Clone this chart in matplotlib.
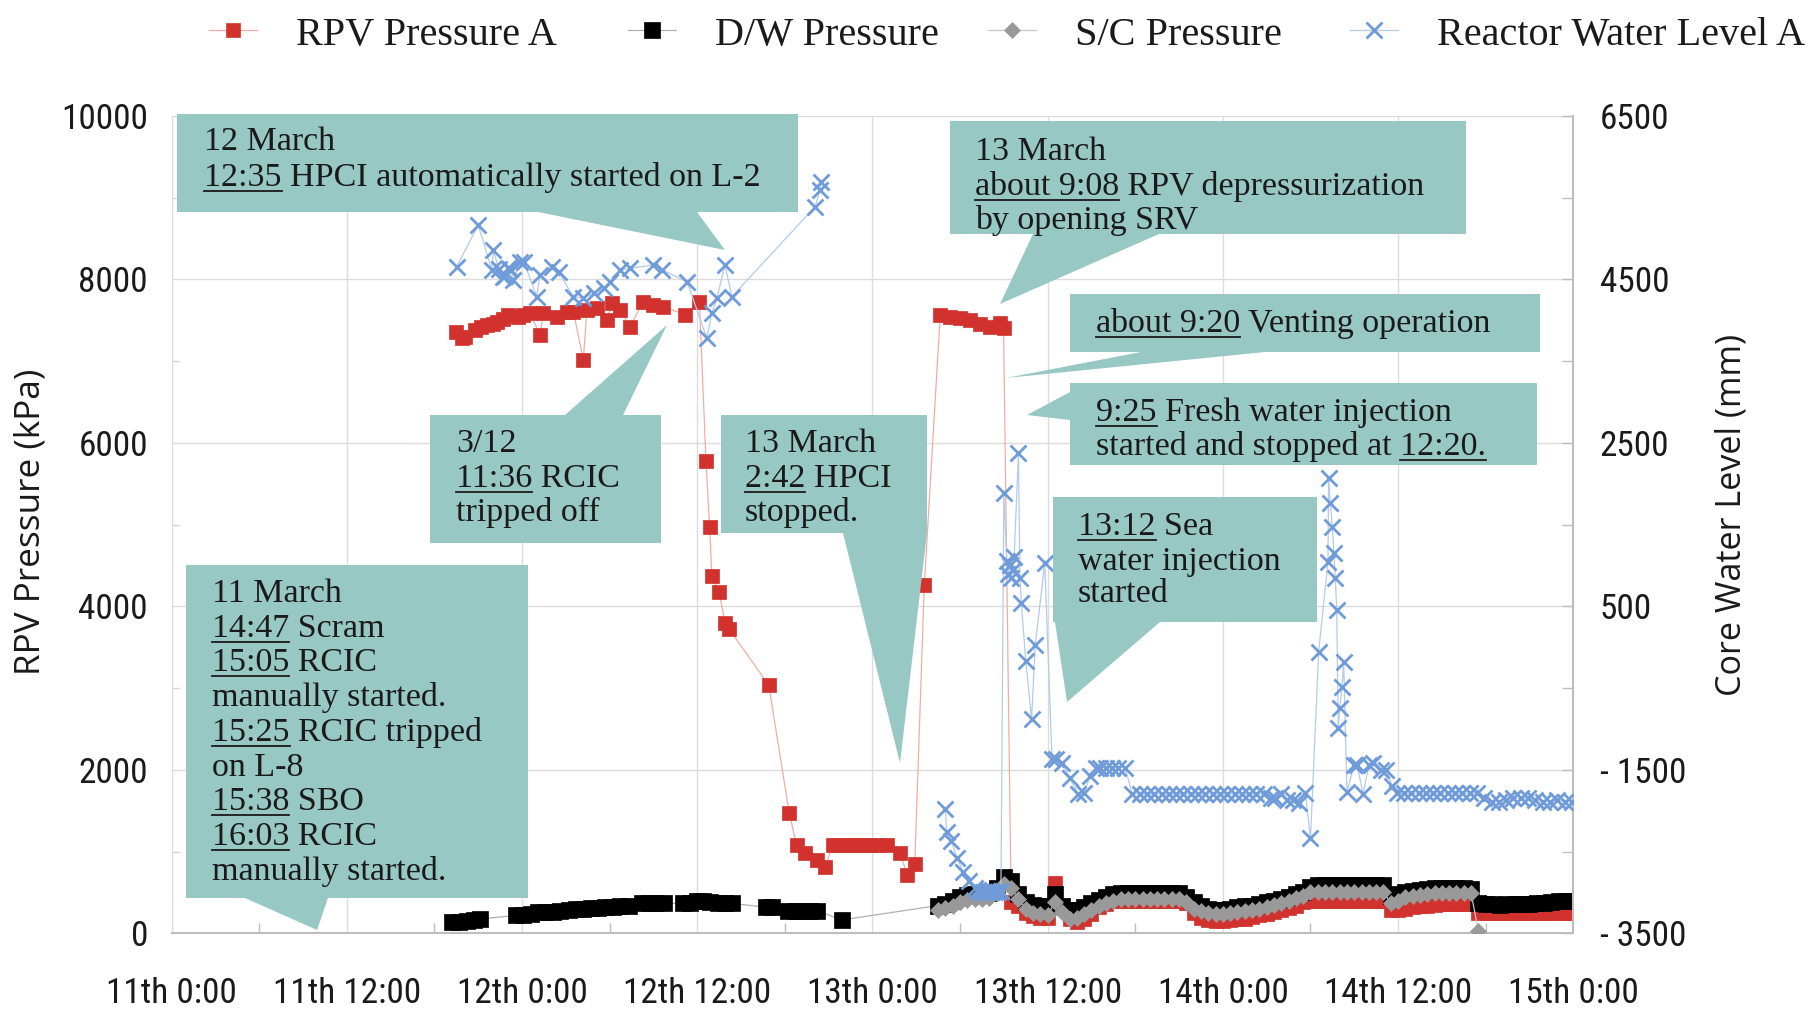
import matplotlib
matplotlib.use('Agg')
import matplotlib.pyplot as plt
from matplotlib import font_manager as fm
from matplotlib.font_manager import FontProperties
from matplotlib.patches import Polygon
from matplotlib.lines import Line2D

W, H = 1818, 1009

# ------------------------------------------------------------------ data
x_ticks = [0, 12, 24, 36, 48, 60, 72, 84, 96]
x_minor = [6, 18, 30, 42, 54, 66, 78, 90]
x_tick_labels = ['11th 0:00', '11th 12:00', '12th 0:00', '12th 12:00', '13th 0:00',
                 '13th 12:00', '14th 0:00', '14th 12:00', '15th 0:00']
p_ticks = [0, 2000, 4000, 6000, 8000, 10000]
p_tick_labels = ['0', '2000', '4000', '6000', '8000', '10000']
p_minor = [1000, 3000, 5000, 7000, 9000]
lvl_ticks = [-3500, -1500, 500, 2500, 4500, 6500]
lvl_tick_labels = ['- 3500', '- 1500', '500', '2500', '4500', '6500']
lvl_minor = [-2500, -500, 1500, 3500, 5500]

# hours after 11 March 0:00
dense_t = [52.5, 53, 53.5, 54, 54.5, 55, 55.5, 56, 56.5, 57,
           57.5, 58, 58.5, 59, 59.5, 60, 60.5, 61, 61.5, 62,
           62.5, 63, 63.5, 64, 64.5, 65, 65.5, 66, 66.5, 67,
           67.5, 68, 68.5, 69, 69.5, 70, 70.5, 71, 71.5, 72,
           72.5, 73, 73.5, 74, 74.5, 75, 75.5, 76, 76.5, 77,
           77.5, 78, 78.5, 79, 79.5, 80, 80.5, 81, 81.5, 82,
           82.5, 83, 83.5, 84, 84.5, 85, 85.5, 86, 86.5, 87,
           87.5, 88, 88.5, 89, 89.5, 90, 90.5, 91, 91.5, 92,
           92.5, 93, 93.5, 94, 94.5, 95, 95.5, 96]

# RPV Pressure A (kPa)
rpv_t_a = [19.46, 19.9, 20.1, 20.8, 21.2, 21.6, 22.0, 22.3, 22.7, 23.07,
           23.75, 24.1, 24.55, 25.24, 25.46, 26.38, 27.1, 27.52, 28.2, 28.44,
           29.12, 29.81, 30.15, 30.72, 31.4, 32.3, 33.0, 33.68, 35.17, 36.15,
           36.6, 36.85, 37.0, 37.5, 37.9, 38.2, 40.9, 42.3, 42.8, 43.4,
           44.2, 44.76, 45.3, 45.8, 46.3, 46.8, 47.3, 47.8, 48.3, 49.0,
           49.9, 50.4, 50.9, 51.55, 52.64, 53.3, 54.0, 54.7, 55.4, 56.06,
           56.75, 56.98]
rpv_p_a = [7361, 7280, 7300, 7381, 7420, 7443, 7460, 7483, 7520, 7565,
           7544, 7560, 7585, 7320, 7585, 7544, 7600, 7605, 7014, 7626,
           7647, 7504, 7708, 7626, 7422, 7728, 7687, 7667, 7565, 7728,
           5773, 4965, 4369, 4170, 3801, 3717, 3036, 1475, 1080, 979,
           897, 815, 1080, 1080, 1080, 1080, 1080, 1080, 1080, 1080,
           979, 709, 851, 4255, 7560, 7545, 7530, 7500, 7460, 7420,
           7470, 7400]
rpv_t_b = dense_t[10:]
rpv_p_b = [380, 330, 250, 210, 190, 190, 620, 320, 170, 140,
           170, 240, 320, 360, 390, 400, 400, 400, 400, 400,
           400, 400, 400, 400, 370, 250, 190, 160, 150, 150,
           160, 170, 180, 200, 220, 240, 260, 280, 310, 340,
           380, 400, 400, 400, 400, 400, 400, 400, 400, 400,
           400, 400, 280, 280, 300, 320, 330, 340, 350, 360,
           360, 360, 360, 360, 250, 250, 250, 250, 250, 250,
           250, 250, 250, 250, 250, 250, 250, 250]

# D/W Pressure (kPa)
dw_t_a = [19.2, 19.7, 20.2, 20.7, 21.1, 23.6, 24.1, 24.6, 25.1, 25.6,
          26.1, 26.6, 27.2, 27.7, 28.2, 28.7, 29.2, 29.7, 30.2, 30.7,
          31.3, 32.2, 32.7, 33.2, 33.7, 35.0, 35.5, 36.0, 36.4, 36.9,
          37.4, 37.9, 38.4, 40.7, 41.1, 42.2, 42.7, 43.2, 43.7, 44.2,
          45.9]
dw_p_a = [135, 140, 145, 165, 175, 220, 228, 240, 255, 262,
          264, 268, 285, 295, 300, 306, 315, 322, 326, 330,
          336, 367, 367, 367, 367, 367, 370, 395, 399, 380,
          370, 367, 367, 318, 318, 277, 277, 277, 277, 277,
          163]
dw_t_b = dense_t
dw_p_b = [340, 360, 400, 440, 470, 480, 480, 490, 560, 690,
          640, 480, 380, 350, 330, 330, 480, 340, 280, 290,
          320, 370, 410, 450, 480, 490, 490, 490, 490, 490,
          490, 490, 490, 490, 450, 380, 330, 300, 290, 290,
          300, 320, 330, 340, 360, 380, 400, 420, 450, 480,
          510, 570, 590, 590, 590, 590, 590, 590, 590, 590,
          590, 590, 460, 480, 510, 520, 530, 540, 550, 550,
          550, 550, 550, 540, 370, 360, 360, 350, 360, 360,
          360, 360, 370, 370, 380, 390, 390, 400]

# S/C Pressure (kPa)
sc_t = dense_t[:74] + [89.5]
sc_p = [290, 310, 340, 380, 410, 420, 420, 430, 490, 600,
        560, 420, 300, 250, 230, 220, 380, 260, 180, 190,
        230, 290, 330, 370, 400, 420, 420, 420, 420, 420,
        420, 420, 420, 420, 380, 300, 270, 250, 240, 240,
        250, 260, 270, 280, 300, 320, 350, 370, 400, 430,
        460, 500, 510, 510, 510, 510, 510, 510, 510, 510,
        510, 510, 370, 400, 440, 460, 470, 480, 490, 490,
        490, 490, 490, 490, 30]

# Reactor Water Level A (mm)
lvl_t_a = [19.53, 21.0, 21.93, 22.04, 22.4, 22.7, 22.8, 23.07, 23.2, 23.4,
           23.87, 24.15, 25.0, 25.24, 26.04, 26.5, 27.5, 28.2, 28.9, 29.6,
           30.0, 30.7, 31.4, 33.0, 33.6, 35.3, 36.66, 37.0, 37.34, 37.9,
           38.37, 44.08, 44.4, 44.5]
lvl_a = [4656, 5166, 4616, 4860, 4625, 4534, 4540, 4636, 4625, 4493,
         4717, 4710, 4289, 4554, 4656, 4595, 4289, 4269, 4330, 4391,
         4473, 4616, 4636, 4677, 4616, 4473, 3780, 4086, 4269, 4677,
         4289, 5390, 5594, 5696]
lvl_t_b = [52.98, 53.1, 53.4, 53.8, 54.2, 54.6, 55.0, 55.2, 55.4, 55.6,
           55.8, 56.0, 56.2, 56.4, 56.6, 56.8, 57.0, 57.2, 57.3, 57.4,
           57.5, 57.6, 57.7, 58.0, 58.1,
           58.2, 58.5, 58.9, 59.15, 59.8, 60.3, 60.6, 61.0, 61.5, 62.1,
           62.5, 62.9, 63.3, 63.6, 64.0, 64.4, 64.8, 65.3, 65.8, 66.3,
           66.8, 67.3, 67.8, 68.3, 68.8, 69.3, 69.8, 70.3, 70.8, 71.3,
           71.8, 72.3, 72.8, 73.3, 73.8, 74.3, 74.8, 75.3, 75.6, 76.0,
           76.4, 76.8, 77.2, 77.65, 78.0, 78.56, 79.2, 79.24, 79.36, 79.5,
           79.6, 79.7, 79.8, 79.9, 80.0, 80.16, 80.27, 80.5, 81.0, 81.2,
           81.6, 82.0, 82.3, 82.8, 83.2, 83.6, 83.9, 84.4, 84.9, 85.4,
           85.9, 86.4, 86.9, 87.4, 87.9, 88.4, 88.9, 89.4, 89.9, 90.4,
           90.9, 91.4, 91.9, 92.4, 92.9, 93.4, 93.9, 94.4, 94.9, 95.4,
           95.9]
lvl_b = [-1983, -2266, -2366, -2578, -2748, -2862, -2950, -2970, -2990, -2990,
         -3000, -2985, -3000, -2995, -2990, -2980, 1883, 1050, 900, 1000,
         850, 950, 1100, 2373, 850,
         538, -168, -877, 27, 1027, -1373, -1373, -1416, -1600, -1798,
         -1783, -1580, -1472, -1472, -1472, -1472, -1472, -1472, -1798, -1798,
         -1798, -1798, -1798, -1798, -1798, -1798, -1798, -1798, -1798, -1798,
         -1798, -1798, -1798, -1798, -1798, -1798, -1798, -1845, -1841, -1798,
         -1870, -1869, -1912, -1787, -2338, -55, 1047, 2067, 1761, 1475,
         1149, 843, 456, -992, -747, -483, -177, -1767, -1441, -1441,
         -1798, -1441, -1416, -1500, -1502, -1700, -1787, -1787, -1787, -1787,
         -1787, -1787, -1787, -1787, -1787, -1787, -1787, -1787, -1850, -1890,
         -1890, -1870, -1848, -1848, -1848, -1870, -1890, -1890, -1870, -1890,
         -1890]

series_names = ['RPV Pressure A', 'D/W Pressure', 'S/C Pressure', 'Reactor Water Level A']

# ------------------------------------------------------------------ fonts
ttf = fm.fontManager.ttflist
names = {f.name for f in ttf}


def _regular(f):
    w = f.weight
    if isinstance(w, str):
        return w.lower() in ('normal', 'regular', 'book', 'roman', 'medium')
    return 350 <= w <= 500


def pick_condensed():
    prefs = ['Liberation Sans Narrow', 'Roboto Condensed', 'Noto Sans', 'Open Sans',
             'DejaVu Sans', 'Roboto', 'Lato', 'Inter', 'Liberation Sans']
    cands = []
    for f in ttf:
        st = str(f.stretch).lower()
        nm = f.name
        if f.style != 'normal' or not _regular(f):
            continue
        if any(k in nm for k in ('Extra', 'Ultra', 'Semi', 'Mono', 'CJK', 'Serif')):
            continue
        if 'Narrow' in nm or 'Condensed' in nm or st == 'condensed':
            fl = f.fname.lower()
            if 'extra' in fl or 'semi' in fl or 'ultra' in fl:
                continue
            cands.append(f)
    for p in prefs:
        for f in cands:
            if f.name.startswith(p):
                return f.fname
    return cands[0].fname if cands else None


_cf = pick_condensed()
FP_TICK = FontProperties(fname=_cf) if _cf else FontProperties(family='Liberation Sans')
SERIF = 'Liberation Serif' if 'Liberation Serif' in names else 'DejaVu Serif'
FP_NOTE = FontProperties(family=SERIF, size=24.5)
FP_LEG = FontProperties(family=SERIF, size=29)
SANS_LAB = 'Open Sans' if 'Open Sans' in names else 'DejaVu Sans'
FP_AXLAB_L = FontProperties(family=SANS_LAB, size=25.3)
FP_AXLAB_R = FontProperties(family=SANS_LAB, size=24.6)

TXT = '#1a1a1a'
BOX = '#98c8c4'
C_RED = '#d2322d'
C_BLUE = '#6f9bd8'

# ------------------------------------------------------------------ figure
fig = plt.figure(figsize=(W / 100, H / 100), dpi=100)
fig.patch.set_facecolor('white')
renderer = fig.canvas.get_renderer()

# size the condensed tick font so that "10000" is ~87 px wide
_probe = fig.text(0, 0, '10000', fontproperties=FP_TICK, size=20)
_w = _probe.get_window_extent(renderer).width
_probe.remove()
FP_TICK.set_size(min(30, 20 * 87.0 / _w))

ax = fig.add_axes([171.6 / W, 1 - 933.3 / H, (1573.3 - 171.6) / W, (933.3 - 115.9) / H])
ax2 = ax.twinx()

l_rpv, = ax.plot(rpv_t_a + rpv_t_b, rpv_p_a + rpv_p_b, color='#f2ada2', lw=0.9,
                 marker='s', ms=9.5, mfc=C_RED, mec=C_RED, mew=0.5, zorder=2)
l_dw, = ax.plot(dw_t_a + dw_t_b, dw_p_a + dw_p_b, color='#b0b0b0', lw=0.9,
                marker='s', ms=11, mfc='black', mec='black', mew=0.5, zorder=3)
l_sc, = ax.plot(sc_t, sc_p, color='#c8c8c8', lw=0.9,
                marker='D', ms=8.5, mfc='#999999', mec='#999999', mew=0.5, zorder=4)
l_lv, = ax2.plot(lvl_t_a, lvl_a, color='#b3cbeb', lw=0.9,
                 marker='x', ms=11.5, mew=2.0, mec=C_BLUE, zorder=5)
ax2.plot(lvl_t_b, lvl_b, color='#b3cbeb', lw=0.9,
         marker='x', ms=11.5, mew=2.0, mec=C_BLUE, zorder=5)

ax.set_xlim(x_ticks[0], x_ticks[-1])
ax.set_ylim(p_ticks[0], p_ticks[-1])
ax2.set_ylim(lvl_ticks[0], lvl_ticks[-1])

ax.set_xticks(x_ticks)
ax.set_xticklabels(x_tick_labels, fontproperties=FP_TICK, color=TXT)
ax.set_xticks(x_minor, minor=True)
ax.set_yticks(p_ticks)
ax.set_yticklabels(p_tick_labels, fontproperties=FP_TICK, color=TXT)
ax.set_yticks(p_minor, minor=True)
ax2.set_yticks(lvl_ticks)
ax2.set_yticklabels(lvl_tick_labels, fontproperties=FP_TICK, color=TXT)
ax2.set_yticks(lvl_minor, minor=True)

ax.grid(True, which='major', color='#dcdcdc', lw=1.0)
ax.set_axisbelow(True)
ax.tick_params(axis='x', which='major', length=0, pad=31.5)
ax.tick_params(axis='x', which='minor', direction='in', length=7, color='#bdbdbd', width=1)
ax.tick_params(axis='y', which='major', length=0, pad=17)
ax.tick_params(axis='y', which='minor', direction='in', length=6, color='#d6d6d6', width=1)
ax2.tick_params(axis='y', which='both', direction='in', length=8, color='#bdbdbd', width=1, pad=19)

for a in (ax, ax2):
    a.spines['top'].set_visible(False)
ax2.spines['left'].set_visible(False)
ax2.spines['bottom'].set_visible(False)
ax.spines['right'].set_visible(False)
ax.spines['left'].set_color('#dcdcdc')
ax.spines['bottom'].set_color('#bdbdbd')
ax.spines['bottom'].set_linewidth(1.5)
ax2.spines['right'].set_color('#bdbdbd')
ax2.spines['right'].set_linewidth(1.5)

# axis titles
fig.text(31 / W, 1 - 522 / H, 'RPV Pressure (kPa)', rotation=90, ha='center', va='center',
         fontproperties=FP_AXLAB_L, color=TXT)
fig.text(1732 / W, 1 - 515 / H, 'Core Water Level (mm)', rotation=90, ha='center', va='center',
         fontproperties=FP_AXLAB_R, color=TXT)

# legend (one entry each, placed along the top)
leg_x = [209, 628, 988, 1350]
for h, name, x0 in zip([l_rpv, l_dw, l_sc, l_lv], series_names, leg_x):
    fig.legend([h], [name], loc='center left', bbox_to_anchor=(x0 / W, 1 - 35 / H),
               frameon=False, borderpad=0, borderaxespad=0, handlelength=1.2,
               handletextpad=0.95, prop=FP_LEG, labelcolor=TXT)

# ------------------------------------------------------------------ callouts


def fpt(x, y):
    return (x / W, 1 - y / H)


def text_width(s):
    t = fig.text(0, 0, s, fontproperties=FP_NOTE)
    w = t.get_window_extent(renderer).width
    t.remove()
    return w


def callout(box, ptr, tx, lines, centers):
    l, t, r, b = box
    kind = ptr[0]
    if kind == 'bottom':
        _, x1, x2, tip = ptr
        verts = [(l, t), (r, t), (r, b), (x2, b), tip, (x1, b), (l, b)]
    elif kind == 'top':
        _, x1, x2, tip = ptr
        verts = [(l, t), (x1, t), tip, (x2, t), (r, t), (r, b), (l, b)]
    else:
        _, y1, y2, tip = ptr
        verts = [(l, t), (r, t), (r, b), (l, b), (l, y2), tip, (l, y1)]
    fig.add_artist(Polygon([fpt(*v) for v in verts], closed=True, transform=fig.transFigure,
                           facecolor=BOX, edgecolor='none', zorder=10))
    for (s, unders), cy in zip(lines, centers):
        base = cy + 10
        fig.text(*fpt(tx, base), s, fontproperties=FP_NOTE, color=TXT,
                 ha='left', va='baseline', zorder=11)
        for u in unders:
            i = s.index(u)
            x1 = tx + text_width(s[:i + len(u)])
            x0 = x1 - text_width(u)
            yy = base + 5
            fig.add_artist(Line2D([x0 / W, x1 / W], [1 - yy / H, 1 - yy / H],
                                  transform=fig.transFigure, color=TXT, lw=1.3, zorder=11))


callout((177, 114, 798, 212), ('bottom', 538, 697, (725, 250)), 204,
        [('12 March', []), ('12:35 HPCI automatically started on L-2', ['12:35'])],
        [140, 176])
callout((430, 415, 661, 543), ('top', 565, 623, (667, 325)), 456,
        [('3/12', []), ('11:36 RCIC', ['11:36']), ('tripped off', [])],
        [442, 477, 511])
callout((721, 415, 927, 533), ('bottom', 843, 927, (900, 763)), 745,
        [('13 March', []), ('2:42 HPCI', ['2:42']), ('stopped.', [])],
        [442, 477, 511])
callout((186, 565, 528, 898), ('bottom', 245, 328, (317, 930)), 212,
        [('11 March', []), ('14:47 Scram', ['14:47']), ('15:05 RCIC', ['15:05']),
         ('manually started.', []), ('15:25 RCIC tripped', ['15:25']), ('on L-8', []),
         ('15:38 SBO', ['15:38']), ('16:03 RCIC', ['16:03']), ('manually started.', [])],
        [592, 627, 661, 696, 731, 766, 800, 835, 870])
callout((950, 121, 1466, 234), ('bottom', 1033, 1159, (1000, 304)), 975,
        [('13 March', []), ('about 9:08 RPV depressurization', ['about 9:08']),
         ('by opening SRV', [])],
        [150, 185, 219])
callout((1070, 294, 1540, 352), ('bottom', 1141, 1265, (1006, 378)), 1096,
        [('about 9:20 Venting operation', ['about 9:20'])],
        [322])
callout((1070, 383, 1537, 465), ('left', 392, 420, (1027, 415)), 1096,
        [('9:25 Fresh water injection', ['9:25']),
         ('started and stopped at 12:20.', ['12:20.'])],
        [411, 445])
callout((1053, 497, 1317, 622), ('bottom', 1055, 1160, (1067, 702)), 1078,
        [('13:12 Sea', ['13:12']), ('water injection', []), ('started', [])],
        [525, 560, 592])

fig.savefig('out.png', dpi=100, facecolor='white')
